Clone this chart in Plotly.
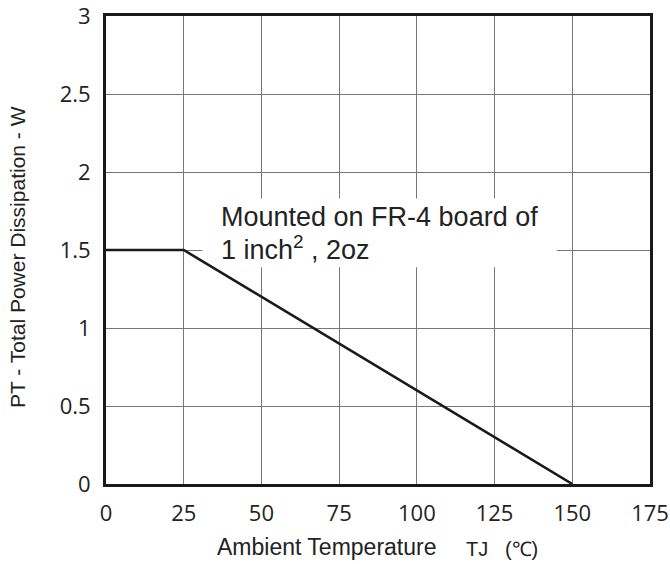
import plotly.graph_objects as go

temp = [0, 25, 150]
power = [1.5, 1.5, 0]
x_ticks = [0, 25, 50, 75, 100, 125, 150, 175]
y_ticks = [0, 0.5, 1, 1.5, 2, 2.5, 3]
y_tick_text = ["0", "0.5", "1", "1.5", "2", "2.5", "3"]

TOP = 16
BOTTOM_PX = 484
PX_PER_UNIT = (BOTTOM_PX - TOP) / 3.0

fig = go.Figure()
fig.add_trace(go.Scatter(x=temp, y=power, mode="lines",
                         line=dict(color="#1a1a1a", width=2.6),
                         hoverinfo="skip", showlegend=False))

fig.add_shape(type="rect", xref="x", yref="y", x0=31.0, x1=145.0, y0=1.39, y1=1.83,
              fillcolor="white", line=dict(width=0), layer="between")

ann_font = dict(family="Liberation Sans, Arial", size=27, color="#222")
fig.add_annotation(x=36.3, y=(BOTTOM_PX - 216.5) / PX_PER_UNIT, xref="x", yref="y",
                   xanchor="left", yanchor="middle", align="left", showarrow=False,
                   text="Mounted on FR-4 board of", font=ann_font)
fig.add_annotation(x=36.3, y=(BOTTOM_PX - 247.5) / PX_PER_UNIT, xref="x", yref="y",
                   xanchor="left", yanchor="middle", align="left", showarrow=False,
                   text="1 inch<sup>2</sup> , 2oz", font=ann_font)

# axis titles
fig.add_annotation(x=35.0, y=0, xref="x", yref="paper", xanchor="left", yanchor="middle",
                   yshift=-63, showarrow=False, text="Ambient Temperature",
                   font=dict(family="Liberation Sans, Arial", size=23, color="#222"))
fig.add_annotation(x=115.3, y=0, xref="x", yref="paper", xanchor="left", yanchor="middle",
                   yshift=-65, showarrow=False, text="TJ&nbsp;&nbsp;&nbsp;(℃)",
                   font=dict(family="Liberation Sans, Arial", size=20, color="#222"))
fig.add_annotation(x=0, y=(BOTTOM_PX - 257) / PX_PER_UNIT, xref="paper", yref="y",
                   xanchor="center", yanchor="middle", xshift=-89, textangle=-90,
                   showarrow=False, text="PT - Total Power Dissipation - W",
                   font=dict(family="Liberation Sans, Arial", size=21, color="#222"))

axis_common = dict(showline=True, mirror=True, linecolor="#1a1a1a", linewidth=3,
                   showgrid=True, gridcolor="#777777", gridwidth=1.2,
                   zeroline=False, ticks="", automargin=False, ticklabeloverflow="allow",
                   tickfont=dict(family="Open Sans, Noto Sans", size=22, color="#222"))

fig.update_xaxes(range=[0, 175], tickvals=x_ticks, ticktext=[str(v) for v in x_ticks],
                 ticklabelstandoff=8, **axis_common)
fig.update_yaxes(range=[0, 3], tickvals=y_ticks, ticktext=y_tick_text,
                 ticklabelstandoff=8, **axis_common)

fig.update_layout(width=670, height=564, margin=dict(l=106, r=20, t=TOP, b=564 - BOTTOM_PX),
                  paper_bgcolor="white", plot_bgcolor="white")

fig.write_html("out.html")
